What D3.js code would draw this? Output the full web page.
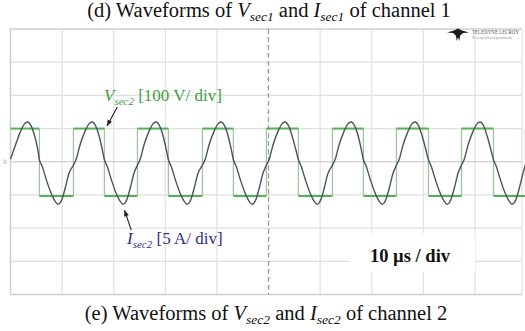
<!DOCTYPE html>
<html><head><meta charset="utf-8">
<script src="https://cdn.jsdelivr.net/npm/d3@7"></script>
<style>html,body{margin:0;padding:0;background:#fff;}svg{display:block;}</style>
</head><body>
<svg id="c" width="525" height="331"></svg>
<script>
// ---------- data ----------
// time axis: 10 µs / div, 10 divisions
const gridTimes = [-40, -30, -20, -10, 0, 10, 20, 30, 40];
const gridDivs = [-3, -2, -1, 1, 2, 3];
// square-wave V_sec2 : transition times (µs) and levels (V) of each segment
const voltEdges = [-50, -44.4, -37.8, -31.8, -25.4, -19.4, -12.8, -6.8, -0.4, 5.8, 12.4, 18.4, 24.8, 31.0, 37.4, 43.6, 49.8, 50];
const voltLevels = [100, -103, 100, -103, 100, -103, 100, -103, 100, -103, 100, -103, 100, -103, 100, -103, 100];
// current I_sec2 samples: time (µs) and current (A)
const curT = [-50.0, -49.0, -48.1, -47.3, -46.7, -46.0, -45.3, -44.7,
  -44.4, -43.9, -43.1, -42.2, -41.4, -40.8, -40.1, -39.4, -38.7,
  -37.8, -37.3, -36.5, -35.6, -34.8, -34.2, -33.5, -32.8, -32.2,
  -31.8, -31.3, -30.5, -29.6, -28.8, -28.2, -27.5, -26.8, -26.1,
  -25.4, -24.9, -24.1, -23.2, -22.4, -21.8, -21.1, -20.4, -19.8,
  -19.4, -18.9, -18.1, -17.2, -16.4, -15.8, -15.1, -14.4, -13.7,
  -12.8, -12.3, -11.5, -10.6, -9.8, -9.2, -8.5, -7.8, -7.2,
  -6.8, -6.3, -5.5, -4.6, -3.8, -3.2, -2.5, -1.8, -1.1,
  -0.4, 0.1, 0.9, 1.8, 2.6, 3.2, 3.9, 4.6, 5.3,
  5.8, 6.3, 7.1, 8.0, 8.8, 9.4, 10.1, 10.8, 11.5,
  12.4, 12.9, 13.7, 14.6, 15.4, 16.0, 16.7, 17.4, 18.0,
  18.4, 18.9, 19.7, 20.6, 21.4, 22.0, 22.7, 23.4, 24.1,
  24.8, 25.3, 26.1, 27.0, 27.8, 28.4, 29.1, 29.8, 30.5,
  31.0, 31.5, 32.3, 33.2, 34.0, 34.6, 35.3, 36.0, 36.7,
  37.4, 37.9, 38.7, 39.6, 40.4, 41.0, 41.7, 42.4, 43.1,
  43.6, 44.1, 44.9, 45.8, 46.6, 47.2, 47.9, 48.6, 49.3,
  49.8, 50.0];
const curA = [0.4, 2.6, 4.5, 5.7, 6.0, 5.4, 3.8, 1.8,
  0.3, -0.6, -2.6, -4.6, -5.9, -6.4, -5.8, -4.0, -1.8,
  -0.5, 0.3, 2.6, 4.5, 5.7, 6.0, 5.4, 3.8, 1.8,
  0.3, -0.6, -2.6, -4.6, -5.9, -6.4, -5.8, -4.0, -1.8,
  -0.5, 0.3, 2.6, 4.5, 5.7, 6.0, 5.4, 3.8, 1.8,
  0.3, -0.6, -2.6, -4.6, -5.9, -6.4, -5.8, -4.0, -1.8,
  -0.5, 0.3, 2.6, 4.5, 5.7, 6.0, 5.4, 3.8, 1.8,
  0.3, -0.6, -2.6, -4.6, -5.9, -6.4, -5.8, -4.0, -1.8,
  -0.5, 0.3, 2.6, 4.5, 5.7, 6.0, 5.4, 3.8, 1.8,
  0.3, -0.6, -2.6, -4.6, -5.9, -6.4, -5.8, -4.0, -1.8,
  -0.5, 0.3, 2.6, 4.5, 5.7, 6.0, 5.4, 3.8, 1.8,
  0.3, -0.6, -2.6, -4.6, -5.9, -6.4, -5.8, -4.0, -1.8,
  -0.5, 0.3, 2.6, 4.5, 5.7, 6.0, 5.4, 3.8, 1.8,
  0.3, -0.6, -2.6, -4.6, -5.9, -6.4, -5.8, -4.0, -1.8,
  -0.5, 0.3, 2.6, 4.5, 5.7, 6.0, 5.4, 3.8, 1.8,
  0.3, -0.6, -2.6, -4.6, -5.9, -6.4, -5.8, -4.0, -1.8,
  -0.5, -0.2];

// ---------- drawing ----------
const svg = d3.select('#c');
const L = 10.5, R = 526.5, T = 29, B = 294.5;
const x = d3.scaleLinear().domain([-50, 50]).range([L, R]);
const yDiv = d3.scaleLinear().domain([-4, 4]).range([B, T]);
const yV = d3.scaleLinear().domain([-400, 400]).range([B, T]);   // 100 V/div
const yI = d3.scaleLinear().domain([-20, 20]).range([B, T]);     // 5 A/div

const serif = "'Liberation Serif','Times New Roman',serif";

// titles
function title(cx, y, letter, num) {
  const t = svg.append('text').attr('x', cx).attr('y', y).attr('text-anchor', 'middle')
    .attr('font-family', serif).attr('font-size', 20.5).attr('fill', '#111');
  t.append('tspan').text('(' + letter + ') Waveforms of ');
  t.append('tspan').attr('font-style', 'italic').text('V');
  t.append('tspan').attr('font-style', 'italic').attr('font-size', 13.5).attr('dy', 4).text('sec' + num);
  t.append('tspan').attr('dy', -4).text(' and ');
  t.append('tspan').attr('font-style', 'italic').text('I');
  t.append('tspan').attr('font-style', 'italic').attr('font-size', 13.5).attr('dy', 4).text('sec' + num);
  t.append('tspan').attr('dy', -4).text(' of channel ' + num);
}
title(269, 17, 'd', 1);
title(266, 320, 'e', 2);

// grid
const g = svg.append('g');
g.selectAll('.vg').data(gridTimes.filter(d => d !== 0)).enter().append('line')
  .attr('x1', d => x(d)).attr('x2', d => x(d)).attr('y1', T).attr('y2', B)
  .attr('stroke', '#e0e0e0').attr('stroke-width', 1.2);
g.selectAll('.hg').data(gridDivs).enter().append('line')
  .attr('x1', L).attr('x2', 522).attr('y1', d => yDiv(d)).attr('y2', d => yDiv(d))
  .attr('stroke', '#e0e0e0').attr('stroke-width', 1.2);
// frame
g.append('path').attr('d', `M522,${T}H${L}V${B}H522`).attr('fill', 'none')
  .attr('stroke', '#cfcfcf').attr('stroke-width', 1.5);
g.append('line').attr('x1', 522).attr('x2', 522).attr('y1', T).attr('y2', B)
  .attr('stroke', '#e0e0e0').attr('stroke-width', 1.2);
// centre horizontal axis
g.append('line').attr('x1', L).attr('x2', 522).attr('y1', yDiv(0)).attr('y2', yDiv(0))
  .attr('stroke', '#c4c4c4').attr('stroke-width', 1);
// centre vertical axis (dotted, with minor ticks)
g.append('line').attr('x1', x(0)).attr('x2', x(0)).attr('y1', T).attr('y2', B)
  .attr('stroke', '#9a9a9a').attr('stroke-width', 1.2).attr('stroke-dasharray', '5,3');
g.append('line').attr('x1', x(0) - 1.5).attr('x2', x(0) + 1.5).attr('y1', T).attr('y2', B)
  .attr('stroke', '#a8a8a8').attr('stroke-width', 1).attr('stroke-dasharray', '1,7.3');

// 10 µs / div box
svg.append('rect').attr('x', 350).attr('y', 233).attr('width', 125).attr('height', 39).attr('fill', '#fff');
svg.append('text').attr('x', 410).attr('y', 262).attr('text-anchor', 'middle')
  .attr('font-family', serif).attr('font-weight', 'bold').attr('font-size', 18.5).attr('fill', '#111')
  .text('10 µs / div');

// logo
const lg = svg.append('g').attr('transform', 'translate(458,34)');
lg.append('path').attr('d', 'M-11,-1.5 L-4,-3.5 L0,-5.5 L4,-3.5 L11,-1.5 L5,-1 L2.2,1.5 L1.2,7 L0,3 L-1.2,7 L-2.2,1.5 L-5,-1 Z')
  .attr('fill', '#1a1a1a');
lg.append('text').attr('x', 14).attr('y', -0.5).attr('font-family', serif).attr('font-size', 5.5)
  .attr('textLength', 47).attr('lengthAdjust', 'spacingAndGlyphs')
  .attr('fill', '#555').text('TELEDYNE LECROY');
lg.append('text').attr('x', 14).attr('y', 5).attr('font-family', serif).attr('font-size', 4.2)
  .attr('textLength', 40).attr('lengthAdjust', 'spacingAndGlyphs')
  .attr('fill', '#999').text('Everywhereyoulook');

// voltage trace
const vg = svg.append('g');
const segs = voltLevels.map((v, i) => ({ t0: voltEdges[i], t1: voltEdges[i + 1], v }));
vg.selectAll('.ve').data(segs.slice(1)).enter().append('line')
  .attr('x1', d => x(d.t0)).attr('x2', d => x(d.t0))
  .attr('y1', (d, i) => yV(segs[i].v)).attr('y2', d => yV(d.v))
  .attr('stroke', '#9fc79f').attr('stroke-width', 1.3);
vg.selectAll('.vh').data(segs).enter().append('line')
  .attr('x1', d => x(d.t0)).attr('x2', d => x(d.t1))
  .attr('y1', d => yV(d.v)).attr('y2', d => yV(d.v))
  .attr('stroke', '#55b155').attr('stroke-width', 2);

// current trace
const curPts = curT.map((t, i) => [t, curA[i]]);
svg.append('path').datum(curPts)
  .attr('d', d3.line().x(d => x(d[0])).y(d => yI(d[1])).curve(d3.curveMonotoneX))
  .attr('fill', 'none').attr('stroke', '#4e525c').attr('stroke-width', 1.4);

// zero marker
svg.append('text').attr('x', 3).attr('y', yDiv(0) + 2.5).attr('font-family', 'DejaVu Sans')
  .attr('font-size', 6).attr('fill', '#8aa88a').text('0');

// arrows
function arrow(x1, y1, x2, y2) {
  svg.append('line').attr('x1', x1).attr('y1', y1).attr('x2', x2).attr('y2', y2)
    .attr('stroke', '#222').attr('stroke-width', 1.1);
  const a = Math.atan2(y2 - y1, x2 - x1), s = 6, w = 2.5;
  const bx = x2 - s * Math.cos(a), by = y2 - s * Math.sin(a);
  svg.append('path').attr('d', `M${x2},${y2}L${bx - w * Math.sin(a)},${by + w * Math.cos(a)}L${bx + w * Math.sin(a)},${by - w * Math.cos(a)}Z`)
    .attr('fill', '#222');
}
arrow(x(-29.3), yV(165), x(-31.3), yV(108));
arrow(x(-26.6), yI(-10.3), x(-27.9), yI(-7.3));

// labels
function label(xp, yp, sym, sub, rest, color) {
  const t = svg.append('text').attr('x', xp).attr('y', yp).attr('font-family', serif)
    .attr('font-size', 17).attr('fill', color);
  t.append('tspan').attr('font-style', 'italic').text(sym);
  t.append('tspan').attr('font-style', 'italic').attr('font-size', 11).attr('dy', 3.5).text(sub);
  t.append('tspan').attr('dy', -3.5).text(rest);
}
label(104, 101, 'V', 'sec2', ' [100 V/ div]', '#3e9e3e');
label(127, 244, 'I', 'sec2', ' [5 A/ div]', '#2c2f8c');
</script>
</body></html>
